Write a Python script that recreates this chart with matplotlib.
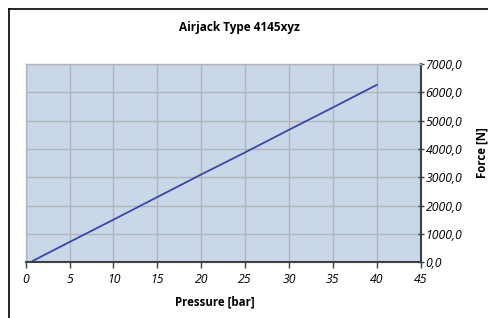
import matplotlib
matplotlib.use("Agg")
import matplotlib.pyplot as plt
from matplotlib.lines import Line2D

pressure = [0.8, 5, 10, 15, 20, 25, 30, 35, 40]
force = [40, 710, 1500, 2300, 3100, 3880, 4680, 5470, 6270]
x_ticks = [0, 5, 10, 15, 20, 25, 30, 35, 40, 45]
y_ticks = [0, 1000, 2000, 3000, 4000, 5000, 6000, 7000]

plt.rcParams["font.family"] = ["Open Sans", "DejaVu Sans"]

fig = plt.figure(figsize=(4.89, 3.18), dpi=100)
ax = fig.add_axes([0.0526, 0.176, 0.8077, 0.622])
ax.set_facecolor("#c9d7e8")

ax.plot(pressure, force, color="#3a47a3", linewidth=1.3)

ax.set_xlim(0, 45)
ax.set_ylim(0, 7000)
ax.set_xticks(x_ticks)
ax.set_yticks(y_ticks)
ax.set_xticklabels([str(v) for v in x_ticks], fontsize=8.8, style="italic")
ax.set_yticklabels([f"{v:.1f}".replace(".", ",") for v in y_ticks], fontsize=8.8, style="italic")
ax.yaxis.tick_right()
ax.tick_params(axis="x", direction="out", length=4, width=1, color="#404040", pad=4)
ax.tick_params(axis="y", direction="inout", length=5, width=1, color="#404040", pad=1)
ax.grid(True, color="#b2b6bc", linewidth=1)
ax.set_axisbelow(True)

for s in ["top", "left"]:
    ax.spines[s].set_color("#b2b6bc")
    ax.spines[s].set_linewidth(1)
for s in ["bottom", "right"]:
    ax.spines[s].set_color("#404040")
    ax.spines[s].set_linewidth(1.5)

fig.text(0.49, 0.912, "Airjack Type 4145xyz", ha="center", va="center",
         fontsize=8.5, fontweight="bold")
fig.text(0.44, 0.051, "Pressure [bar]", ha="center", va="center",
         fontsize=8.3, fontweight="bold")
fig.text(0.986, 0.52, "Force [N]", ha="center", va="center",
         fontsize=8.3, fontweight="bold", rotation=90)

# outer chart border (only top and left visible)
fig.add_artist(Line2D([0.0175, 0.0175], [0, 0.973], color="black", linewidth=1.2,
                      transform=fig.transFigure))
fig.add_artist(Line2D([0.0175, 1.0], [0.973, 0.973], color="black", linewidth=1.2,
                      transform=fig.transFigure))

fig.savefig("out.png", dpi=100)
